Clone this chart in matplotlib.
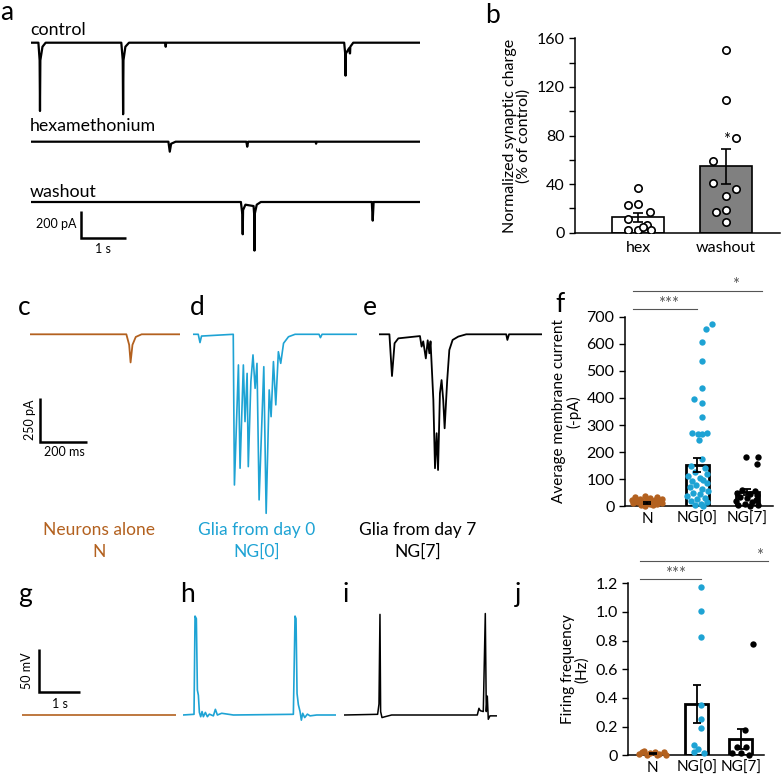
import numpy as np
import matplotlib
matplotlib.use("Agg")
import matplotlib.pyplot as plt

plt.rcParams['font.family'] = ['Lato', 'DejaVu Sans']

BROWN = '#b3611f'
BLUE = '#1ea3d4'

# ---- panel a: traces (s, pA) ----
CONTROL_T = [0, 0.17, 0.197, 0.205, 0.213, 0.26, 0.33, 2.0, 2.032, 2.04, 2.048, 2.09, 2.17,
             2.97, 2.98, 2.99, 6.92, 6.942, 6.95, 6.958, 7.03, 7.045, 7.05, 7.055, 7.12, 8.59]
CONTROL_I = [0, 0, -130, -506, -130, -30, 0, 0, -130, -530, -130, -30, 0,
             0, -30, 0, 0, -80, -244, -80, -40, -79, -79, -30, 0, 0]
HEX_T = [0, 3.04, 3.07, 3.1, 3.2, 4.76, 4.78, 4.8, 6.29, 6.3, 6.31, 8.59]
HEX_I = [0, 0, -74, -15, 0, 0, -37, 0, 0, -15, 0, 0]
WASH_T = [0, 4.64, 4.672, 4.68, 4.688, 4.74, 4.92, 4.935, 4.94, 4.945, 4.99, 5.08,
          7.53, 7.55, 7.57, 8.59]
WASH_I = [0, 0, -90, -239, -60, -20, -30, -100, -360, -90, -20, 0, 0, -138, 0, 0]

# ---- panel b ----
B_GROUPS = ['hex', 'washout']
B_MEANS = [12.6, 54.6]
B_SEM = [3.5, 14.6]
HEX_PTS = [37, 23, 24, 17, 11.5, 6, 2, 2, 4.5, 2]
HEX_OFF = [0, -0.11, 0, 0.13, -0.11, 0.1, -0.11, 0, 0.06, 0.15]
WASH_PTS = [150, 109, 78, 59, 41, 36, 30.5, 17, 19, 8.5]
WASH_OFF = [0, 0, 0.11, -0.15, -0.15, 0.11, 0, -0.12, 0, 0]

# ---- panels c, d, e: traces (ms, pA) ----
C_T = [0, 410, 422, 428, 436, 450, 475, 639]
C_I = [0, 0, -60, -160, -60, -15, 0, 0]
D_T = [0, 21, 28.5, 35, 170, 175, 192, 199, 213, 220, 229, 234, 245, 254, 263, 271, 280,
       300, 310, 323, 331, 341, 351, 362, 372, 384, 405, 433, 535, 541, 548, 696]
D_I = [0, 0, -47, -10, 0, -856, -174, -761, -174, -496, -222, -752, -269, -117, -307, -165,
       -941, -184, -1017, -316, -468, -155, -401, -99, -165, -51, -14, 0, 0, -19, 0, 0]
E_T = [0, 43, 54, 65, 81, 173, 180, 187, 198, 206, 213, 218, 230, 237, 244, 250, 258, 265,
       272, 278, 289, 298, 312, 336, 370, 540, 545, 552, 691]
E_I = [0, 0, -237, -51, -23, -10, -70, -40, -137, -34, -108, -40, -373, -761, -562, -771,
       -335, -260, -373, -534, -260, -89, -32, -13, 0, 0, -32, 0, 0]

# ---- panel f ----
GROUPS = ['N', 'NG[0]', 'NG[7]']
F_MEANS = [12, 152, 53]
F_SEM = [3, 25, 12]
F_N = [38, 35, 33, 30, 28, 27, 25, 24, 22, 20, 19, 18, 16, 14, 12, 10, 8, 6, 4, 2]
F_N_OFF = [-0.05, 0.2, -0.25, 0.05, 0.3, -0.15, 0.15, -0.3, 0.0, 0.25, -0.1, 0.1, -0.2,
           0.3, -0.28, 0.05, 0.2, -0.12, 0.12, -0.05]
F_NG0 = [672, 653, 608, 535, 438, 396, 383, 328, 272, 267, 268, 270, 244, 176, 150, 140,
         128, 120, 112, 105, 98, 92, 85, 78, 70, 64, 58, 50, 44, 38, 32, 26, 20, 15, 10, 5, 2]
F_NG0_OFF = [0.3, 0.18, 0.1, 0.1, 0.1, -0.06, 0.1, 0.1, -0.1, 0.02, 0.1, 0.2, 0.03, 0.1,
             -0.12, 0.15, -0.05, 0.2, -0.18, 0.05, 0.12, -0.1, 0.2, -0.02, -0.15, 0.1, 0.22,
             -0.08, 0.05, -0.2, 0.15, 0.0, -0.12, 0.2, 0.08, -0.05, 0.12]
F_NG7 = [182, 182, 155, 60, 55, 50, 45, 40, 35, 30, 25, 20, 15, 10, 5, 3, 0]
F_NG7_OFF = [-0.03, 0.22, 0.2, -0.1, 0.15, -0.2, 0.05, 0.2, -0.15, 0.0, 0.18, -0.22,
             0.1, -0.05, 0.22, -0.18, 0.05]

# ---- panels g, h, i: traces (ms, mV) ----
G_T = [0, 3760]
G_V = [0, 0]
H_T = [0, 276, 301, 333, 358, 382, 407, 439, 472, 504, 553, 602, 650, 748, 797, 846, 951,
       1236, 2699, 2740, 2764, 2789, 2821, 2862, 2894, 2927, 2976, 3041, 3106, 3268, 3740]
H_V = [0, 0.8, 115, 112, 29, 23, 3, -2, 4, -2, 3, -2, 1, -1, 6.6, 0, 2, 0, 0.8, 115, 112,
       25, 12, 4, -6, 2, -3, 1, -1, 0, 0]
I_T = [0, 813, 846, 870, 886, 919, 992, 1154, 3244, 3284, 3317, 3390, 3439, 3463, 3488,
       3512, 3553, 3732]
I_V = [0, 0.8, 12.8, 117, 4, -3, -2, 0, 0, 7.8, 5, 4, 118, 4, 22, -5, -1, -1]

# ---- panel j ----
J_MEANS = [0.01, 0.356, 0.114]
J_SEM = [0.004, 0.132, 0.07]
J_N = [0.03, 0.025, 0.02, 0.015, 0.01, 0.01, 0.005, 0.0, 0.0, 0.02]
J_N_OFF = [-0.2, 0.05, 0.25, -0.05, 0.15, -0.3, 0.3, -0.12, 0.1, -0.25]
J_NG0 = [1.172, 1.005, 0.828, 0.349, 0.251, 0.19, 0.07, 0.045, 0.02, 0.019]
J_NG0_OFF = [0.09, 0.09, 0.09, 0.09, 0.09, 0.09, -0.05, 0.04, -0.06, 0.17]
J_NG7 = [0.777, 0.174, 0.06, 0.06, 0.019, 0.019, 0.0]
J_NG7_OFF = [0.27, 0.09, -0.09, 0.11, -0.2, 0.01, 0.19]

W, H = 781, 776
fig = plt.figure(figsize=(W / 100, H / 100), dpi=100)


def px_axes(left, top, width, height):
    return fig.add_axes([left / W, 1 - (top + height) / H, width / W, height / H])


def ftext(x, y, s, **kw):
    fig.text(x / W, 1 - y / H, s, **kw)


def trace(t, v, x0, base, t_per_px, v_per_px, color, lw=1.2):
    t = np.asarray(t, float)
    v = np.asarray(v, float)
    vhi = max(v.max(), 0) + 3 * v_per_px
    vlo = v.min() - 3 * v_per_px
    ax = px_axes(x0, base - vhi / v_per_px, t.max() / t_per_px, (vhi - vlo) / v_per_px)
    ax.plot(t, v, color=color, lw=lw, solid_joinstyle='round')
    ax.set_xlim(0, t.max())
    ax.set_ylim(vlo, vhi)
    ax.axis('off')


def scale_bar(x0, y0, t_len, v_len, t_per_px, v_per_px):
    w, h = t_len / t_per_px, v_len / v_per_px
    ax = px_axes(x0, y0 - h, w, h)
    ax.plot([0, 0, t_len], [v_len, 0, 0], color='black', lw=1.8,
            solid_joinstyle='miter', solid_capstyle='butt', clip_on=False)
    ax.set_xlim(0, t_len)
    ax.set_ylim(0, v_len)
    ax.axis('off')


def letter(x, y, s, va='baseline'):
    ftext(x, y, s, fontsize=19, va=va, ha='left')


# panel a
A_TPP, A_VPP = 1 / 45.3, 200 / 27
trace(CONTROL_T, CONTROL_I, 30.7, 42.7, A_TPP, A_VPP, 'black', 1.6)
trace(HEX_T, HEX_I, 30.7, 141.7, A_TPP, A_VPP, 'black', 1.6)
trace(WASH_T, WASH_I, 30.7, 202, A_TPP, A_VPP, 'black', 1.6)
scale_bar(80.7, 237.7, 1, 200, A_TPP, A_VPP)
ftext(30, 30, 'control', fontsize=12.8, va='center')
ftext(30, 126, 'hexamethonium', fontsize=12.8, va='center')
ftext(30, 192, 'washout', fontsize=12.8, va='center')
ftext(77, 224, '200 pA', fontsize=9, ha='right', va='center')
ftext(103, 249, '1 s', fontsize=9, ha='center', va='center')
letter(0, 0, 'a', va='top')

# panel b
ax = px_axes(575, 38.3, 205, 194.4)
ax.bar([0, 1], B_MEANS, width=0.59, color=['white', '#808080'], edgecolor='black',
       linewidth=1.2, zorder=1)
ax.errorbar([0, 1], B_MEANS, yerr=B_SEM, fmt='none', ecolor='black', elinewidth=1.2,
            capsize=3.5, capthick=1.2, zorder=3)
for i, (pts, off) in enumerate([(HEX_PTS, HEX_OFF), (WASH_PTS, WASH_OFF)]):
    ax.scatter(i + np.asarray(off), pts, s=28, facecolor='white', edgecolor='black',
               linewidth=1.2, zorder=4)
ax.text(1.0, 70, '*', ha='center', va='bottom', fontsize=12)
ax.set_xlim(-0.716, 1.61)
ax.set_ylim(0, 160)
ax.set_yticks(np.arange(0, 161, 40))
ax.set_yticks(np.arange(20, 160, 40), minor=True)
ax.set_xticks([0, 1])
ax.set_xticklabels(B_GROUPS)
ax.spines[['top', 'right']].set_visible(False)
for s in ['left', 'bottom']:
    ax.spines[s].set_linewidth(1.1)
ax.tick_params(axis='x', length=0, labelsize=11.5, pad=6)
ax.tick_params(axis='y', which='both', length=4, width=1, labelsize=11.5)
ax.set_ylabel('Normalized synaptic charge\n(% of control)', fontsize=11.5, linespacing=1.0)
letter(485, 22.7, 'b')

# panels c, d, e
C_TPP, C_VPP = 200 / 47, 250 / 44
trace(C_T, C_I, 30, 334.3, C_TPP, C_VPP, BROWN, 1.3)
trace(D_T, D_I, 193.3, 334.3, C_TPP, C_VPP, BLUE, 1.2)
trace(E_T, E_I, 379.3, 334.3, C_TPP, C_VPP, 'black', 1.3)
scale_bar(40, 442, 200, 250, C_TPP, C_VPP)
ftext(30, 420, '250 pA', fontsize=9, rotation=90, ha='center', va='center')
ftext(64, 452, '200 ms', fontsize=9, ha='center', va='center')
ftext(99, 530, 'Neurons alone', fontsize=12.5, color=BROWN, ha='center', va='center')
ftext(99, 552, 'N', fontsize=12.5, color=BROWN, ha='center', va='center')
ftext(257, 530, 'Glia from day 0', fontsize=12.5, color=BLUE, ha='center', va='center')
ftext(257, 552, 'NG[0]', fontsize=12.5, color=BLUE, ha='center', va='center')
ftext(418, 530, 'Glia from day 7', fontsize=12.5, color='black', ha='center', va='center')
ftext(418, 552, 'NG[7]', fontsize=12.5, color='black', ha='center', va='center')
letter(18, 315, 'c')
letter(190, 315, 'd')
letter(363, 315, 'e')


def group_panel(rect, xlim, ylim, ticks, ticklabels, means, sem, pts, width, ylabel):
    ax = px_axes(*rect)
    x = np.arange(3)
    ax.bar(x, means, width=width, color='white', edgecolor='black', linewidth=2, zorder=1)
    for i, (vals, off, col) in enumerate(pts):
        ax.scatter(i + np.asarray(off), vals, s=21, color=col, linewidth=0, zorder=3,
                   clip_on=False)
    ax.errorbar(x, means, yerr=sem, fmt='none', ecolor='black', elinewidth=1.3,
                capsize=3, capthick=1.3, zorder=4)
    ax.set_xlim(*xlim)
    ax.set_ylim(*ylim)
    ax.set_yticks(ticks)
    ax.set_yticklabels(ticklabels)
    ax.set_xticks(x)
    ax.set_xticklabels(GROUPS)
    ax.spines[['top', 'right']].set_visible(False)
    for s in ['left', 'bottom']:
        ax.spines[s].set_linewidth(1.1)
    ax.tick_params(axis='x', length=0, labelsize=11, pad=4)
    ax.tick_params(axis='y', length=4, width=1, labelsize=11.5)
    ax.set_ylabel(ylabel, fontsize=11, linespacing=1.0)
    return ax


def sig(ax, x1, x2, y, label, tx, ty):
    ax.plot([x1, x2], [y, y], color='#555555', lw=0.8, clip_on=False)
    ax.text(tx, ty, label, ha='center', va='center', fontsize=12, color='#555555')


# panel f
ax = group_panel((625, 316.7, 148, 189.6), (-0.44, 2.52), (0, 700),
                 np.arange(0, 701, 100), [str(v) for v in range(0, 701, 100)],
                 F_MEANS, F_SEM,
                 [(F_N, F_N_OFF, BROWN), (F_NG0, F_NG0_OFF, BLUE), (F_NG7, F_NG7_OFF, 'black')],
                 0.46, 'Average membrane current\n(-pA)')
sig(ax, -0.28, 1.0, 727, '***', 0.44, 748)
sig(ax, -0.28, 2.29, 795, '*', 1.77, 816)
letter(555, 312, 'f')

# panels g, h, i
G_TPP, G_VPP = 1000 / 41, 50 / 43
trace(G_T, G_V, 21.7, 715, G_TPP, G_VPP, BROWN, 1.2)
trace(H_T, H_V, 182.7, 715, G_TPP, G_VPP, BLUE, 1.2)
trace(I_T, I_V, 344.3, 715, G_TPP, G_VPP, 'black', 1.1)
scale_bar(39, 692.3, 1000, 50, G_TPP, G_VPP)
ftext(27, 671, '50 mV', fontsize=9, rotation=90, ha='center', va='center')
ftext(60, 704, '1 s', fontsize=9, ha='center', va='center')
letter(18, 602, 'g')
letter(180, 602, 'h')
letter(342, 602, 'i')

# panel j
ax = group_panel((628, 583.3, 136, 172), (-0.56, 2.53), (0, 1.2),
                 np.arange(0, 1.21, 0.2), ['0', '0.2', '0.4', '0.6', '0.8', '1.0', '1.2'],
                 J_MEANS, J_SEM,
                 [(J_N, J_N_OFF, BROWN), (J_NG0, J_NG0_OFF, BLUE), (J_NG7, J_NG7_OFF, 'black')],
                 0.52, 'Firing frequency\n(Hz)')
sig(ax, -0.29, 1.1, 1.23, '***', 0.51, 1.262)
sig(ax, -0.29, 2.62, 1.356, '*', 2.42, 1.39)
letter(515, 602, 'j')

fig.savefig('out.png', dpi=100)
